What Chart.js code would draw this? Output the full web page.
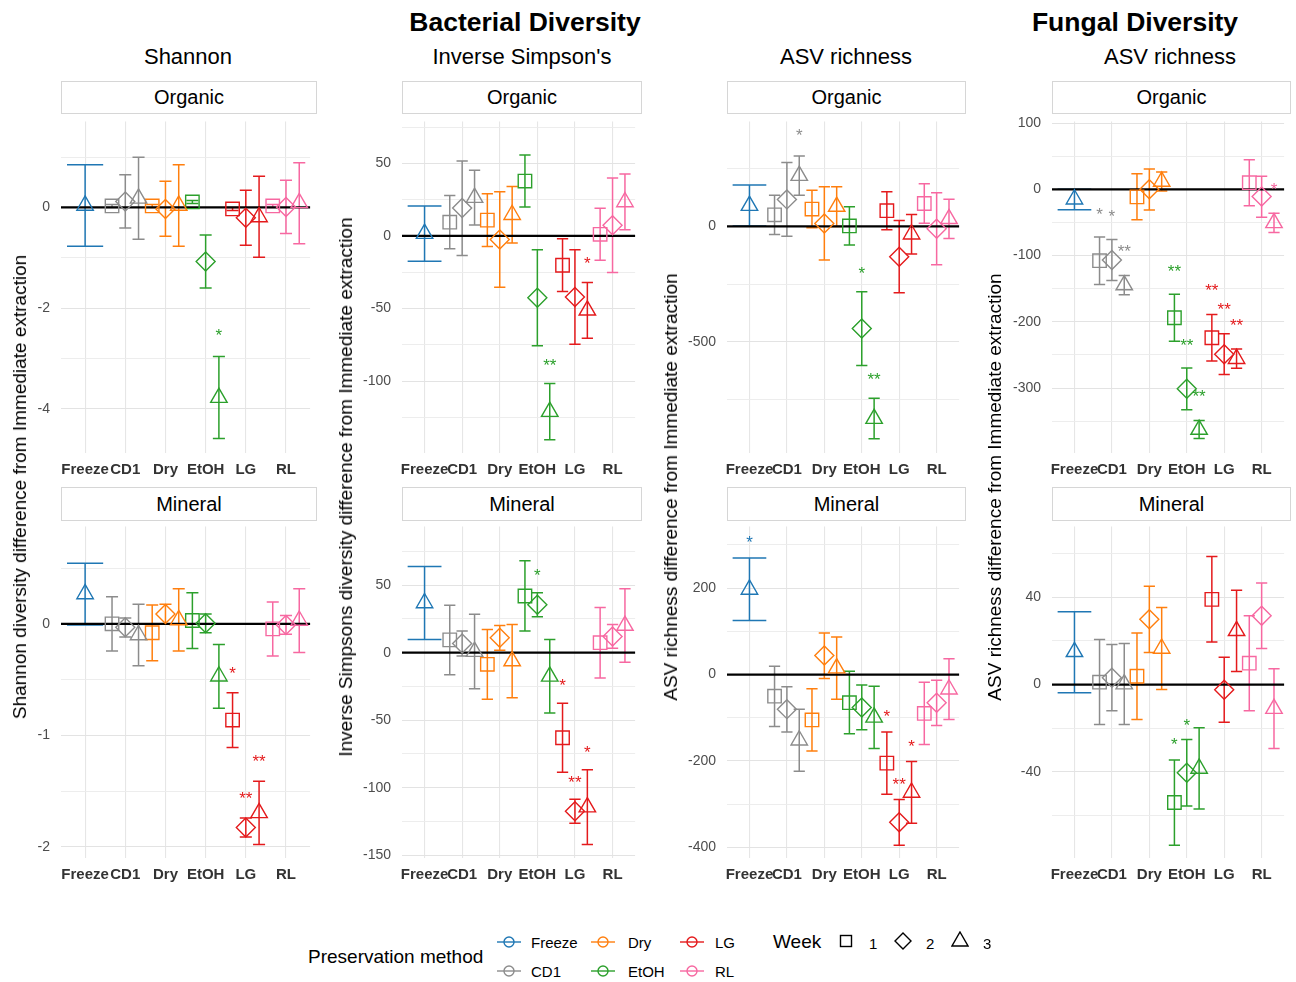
<!DOCTYPE html>
<html>
<head>
  <meta charset="utf-8">
  <title>Diversity difference from immediate extraction</title>
  <script src="https://cdn.jsdelivr.net/npm/chart.js@4.4.1/dist/chart.umd.min.js"></script>
  <style>
    body { margin: 0; background: #fff; font-family: 'Liberation Sans', Arial, sans-serif; color: #000; }
    #fig { position: relative; width: 1296px; height: 982px; overflow: hidden; }
    #fig canvas { position: absolute; }
    .lbl { position: absolute; white-space: nowrap; transform: translate(-50%, -50%); line-height: 1.15; }
    .title { font-size: 26.5px; font-weight: bold; }
    .sub { font-size: 22px; }
    .strip { position: absolute; box-sizing: border-box; border: 1px solid #d6d6d6; background: #fff;
             font-size: 20px; display: flex; align-items: center; justify-content: center; }
    .ytitle { position: absolute; white-space: nowrap; font-size: 19px; transform: translate(-50%, -50%) rotate(-90deg); }
    .leg { position: absolute; white-space: nowrap; transform: translateY(-50%); font-size: 15px; }
  </style>
</head>
<body>
<div id="fig"></div>

<script>
  // Categories and point layout (Freeze only has week 3)
  const methods = ['Freeze', 'CD1', 'Dry', 'EtOH', 'LG', 'RL'];
  const methodColors = ['#1f77b4', '#8c8c8c', '#ff7f0e', '#2ca02c', '#e41a1c', '#f768a1'];
  const weekShapes = { 1: 'rect', 2: 'rectRot', 3: 'triangle' };
  const pointMethod = [0, 1, 1, 1, 2, 2, 2, 3, 3, 3, 4, 4, 4, 5, 5, 5];
  const pointWeek   = [3, 1, 2, 3, 1, 2, 3, 1, 2, 3, 1, 2, 3, 1, 2, 3];

  // Bacterial Shannon - Organic
  const shannonOrgMean = [0.04, 0.03, 0.12, 0.18, 0.03, -0.03, 0.04, 0.11, -1.075, -3.78, -0.03, -0.205, -0.19, 0.03, 0.01, 0.09];
  const shannonOrgLo   = [-0.77, 0.0, -0.41, -0.63, 0.0, -0.57, -0.77, 0.08, -1.60, -4.59, -0.06, -0.75, -0.99, 0.0, -0.52, -0.72];
  const shannonOrgHi   = [0.85, 0.06, 0.65, 1.0, 0.06, 0.52, 0.85, 0.14, -0.55, -2.96, 0.0, 0.34, 0.62, 0.06, 0.54, 0.89];
  const shannonOrgStars = [[9, -2.46, '*']];

  // Bacterial Shannon - Mineral
  const shannonMinMean = [0.268, 0.0, -0.03, -0.10, -0.08, 0.088, 0.035, 0.03, 0.005, -0.47, -0.863, -1.826, -1.695, -0.045, -0.01, 0.03];
  const shannonMinLo   = [-0.01, -0.244, -0.118, -0.376, -0.332, 0.0, -0.244, -0.22, -0.079, -0.756, -1.109, -1.912, -1.979, -0.288, -0.094, -0.256];
  const shannonMinHi   = [0.544, 0.244, 0.053, 0.176, 0.168, 0.176, 0.315, 0.28, 0.088, -0.185, -0.618, -1.741, -1.412, 0.197, 0.074, 0.315];
  const shannonMinStars = [[10, -0.406, '*'], [11, -1.53, '**'], [12, -1.2, '**']];

  // Bacterial Inverse Simpson - Organic
  const simpsonOrgMean = [1.6, 9.5, 19.2, 26.4, 10.9, -2.5, 14.6, 37.8, -42.6, -121, -20.2, -42, -51.2, 1.1, 7.4, 23.4];
  const simpsonOrgLo   = [-17.4, -8.8, -13.4, 7.5, -7.3, -35.3, -4.8, 19.9, -75.7, -140.3, -38.3, -74.6, -70.5, -16.8, -25.2, 4.3];
  const simpsonOrgHi   = [20.6, 27.9, 51.7, 45.3, 29, 30.4, 34, 55.7, -9.5, -101.7, -2, -9.5, -32, 19, 39.9, 42.6];
  const simpsonOrgStars = [[9, -86.6, '**'], [12, -16.3, '*']];

  // Bacterial Inverse Simpson - Mineral
  const simpsonMinMean = [36.8, 9.5, 6.8, 0.8, -8.6, 11, -6.2, 42, 35.5, -17.5, -63, -117.4, -114.3, 7.4, 12, 20.1];
  const simpsonMinLo   = [9.7, -16.3, -2.4, -26.7, -34.5, 1.9, -33.3, 16, 26.7, -44.7, -88.6, -126.2, -142, -18.7, 3.2, -7];
  const simpsonMinHi   = [63.8, 35.2, 16, 28.4, 17.2, 20.1, 20.9, 68, 44.4, 9.7, -37.4, -108.5, -86.7, 33.5, 20.9, 47.3];
  const simpsonMinStars = [[8, 60.2, '*'], [10, -21.1, '*'], [11, -93.2, '**'], [12, -70.9, '*']];

  // Bacterial ASV richness - Organic
  const asvOrgMean = [90, 50, 117, 220, 75, 13, 86, 2, -442, -832, 68, -131, -34, 99, -10, 33];
  const asvOrgLo   = [1.4, -35.5, -42.6, 135, -5.7, -145, 0, -81, -602, -919, -14, -287, -119, 14, -166, -52.6];
  const asvOrgHi   = [179, 135, 277, 305, 156, 172, 172, 85, -283, -744, 150, 25.6, 51, 185, 146, 118];
  const asvOrgStars = [[3, 409, '*'], [8, -185, '*'], [9, -645, '**']];

  // Bacterial ASV richness - Mineral
  const asvMinMean = [197, -50, -80, -152, -105, 44, 15, -65, -76, -99, -205, -342, -273, -90, -65, -34];
  const asvMinLo   = [125, -120, -133, -224, -177, -9, -57, -137, -128, -171, -277, -395, -344, -162, -118, -104];
  const asvMinHi   = [270, 19, -28, -80, -33, 96.5, 87, 7.6, -24, -27, -133, -289, -201, -17.5, -13, 36.5];
  const asvMinStars = [[0, 315, '*'], [10, -87, '*'], [11, -245, '**'], [12, -158, '*']];

  // Fungal ASV richness - Organic
  const fungalOrgMean = [-15, -107.7, -106.7, -144.5, -11.4, 0, 11.9, -193.8, -301, -362.6, -224, -249, -255.7, 10, -11, -50.7];
  const fungalOrgLo   = [-30.7, -143.6, -137.6, -159, -46, -31.2, -2.5, -229.2, -332.7, -376, -259, -279.7, -270, -24.8, -42, -65];
  const fungalOrgHi   = [0, -71.8, -75.7, -130, 23.3, 30.7, 26.2, -158.4, -269.8, -349, -189, -218, -241, 44.6, 19.8, -36];
  const fungalOrgStars = [[1, -32, '*'], [2, -35, '*'], [3, -88, '**'], [7, -118, '**'], [8, -229, '**'],
                          [9, -307, '**'], [10, -147, '**'], [11, -176, '**'], [12, -200, '**'], [15, 6.4, '*']];

  // Fungal ASV richness - Mineral
  const fungalMinMean = [15, 1.1, 3.1, 0.2, 3.8, 29.9, 16.5, -54, -40.4, -38.4, 39, -2.4, 24.6, 9.8, 31.5, -11];
  const fungalMinLo   = [-3.75, -18.3, -12, -18.3, -16, 14.7, -2.3, -73.6, -55.6, -57, 19.5, -17.3, 6, -12, 16.5, -29.3];
  const fungalMinHi   = [33.3, 20.6, 18.3, 18.8, 23.6, 45, 35.3, -34.5, -25.2, -19.8, 58.6, 12.5, 43.2, 31.5, 46.5, 7.2];
  const fungalMinStars = [[7, -25.8, '*'], [8, -17, '*']];

  // page layout
  const FONT = "'Liberation Sans', Arial, sans-serif";
  const colLeft  = [61, 402, 727, 1052];
  const colRight = [317, 642, 966, 1291];
  const rowTop    = [116, 521];
  const rowBottom = [453, 858];
  const stripTop    = [81, 487];
  const stripBottom = [114, 521];
  const YW = 60, PT = 14, PR = 4, XH = 34;

  const panels = [
    { col: 0, row: 0, mean: shannonOrgMean, lo: shannonOrgLo, hi: shannonOrgHi, stars: shannonOrgStars, min: -4.88, max: 1.71, major: 2, minor: 1 },
    { col: 0, row: 1, mean: shannonMinMean, lo: shannonMinLo, hi: shannonMinHi, stars: shannonMinStars, min: -2.10, max: 0.874, major: 1, minor: 0.5 },
    { col: 1, row: 0, mean: simpsonOrgMean, lo: simpsonOrgLo, hi: simpsonOrgHi, stars: simpsonOrgStars, min: -149.5, max: 78.9, major: 50, minor: 25 },
    { col: 1, row: 1, mean: simpsonMinMean, lo: simpsonMinLo, hi: simpsonMinHi, stars: simpsonMinStars, min: -152, max: 93.5, major: 50, minor: 25 },
    { col: 2, row: 0, mean: asvOrgMean, lo: asvOrgLo, hi: asvOrgHi, stars: asvOrgStars, min: -981, max: 454.6, major: 500, minor: 250 },
    { col: 2, row: 1, mean: asvMinMean, lo: asvMinLo, hi: asvMinHi, stars: asvMinStars, min: -424.6, max: 343, major: 200, minor: 100 },
    { col: 3, row: 0, mean: fungalOrgMean, lo: fungalOrgLo, hi: fungalOrgHi, stars: fungalOrgStars, min: -398, max: 102.5, major: 100, minor: 50 },
    { col: 3, row: 1, mean: fungalMinMean, lo: fungalMinLo, hi: fungalMinHi, stars: fungalMinStars, min: -79.4, max: 72.4, major: 40, minor: 20 }
  ];

  const fig = document.getElementById('fig');

  function addLabel(cls, text, x, y, extra) {
    const d = document.createElement('div');
    d.className = cls;
    d.textContent = text;
    d.style.left = x + 'px';
    d.style.top = y + 'px';
    if (extra) Object.assign(d.style, extra);
    fig.appendChild(d);
    return d;
  }

  function isMultiple(v, m) {
    return Math.abs(v / m - Math.round(v / m)) < 1e-6;
  }

  // tick values: multiples of step inside [min, max]
  function stepTicks(min, max, step) {
    const out = [];
    for (let k = Math.ceil(min / step); k * step <= max + 1e-9; k++) {
      out.push({ value: Math.round(k * step * 1000) / 1000 });
    }
    return out;
  }

  // x position of a point: dodged by week when the method has three weeks
  function pointX(i) {
    const mi = pointMethod[i];
    const n = pointMethod.filter(v => v === mi).length;
    return mi + (n > 1 ? (pointWeek[i] - 2) * 0.33 : 0);
  }

  const errorBars = {
    id: 'errorBars',
    beforeDatasetsDraw(chart) {
      const { ctx, chartArea, scales: { x, y } } = chart;
      ctx.save();
      ctx.lineWidth = 1.5;
      chart.data.datasets.forEach(ds => {
        ctx.strokeStyle = ds.borderColor;
        ds.data.forEach(p => {
          const px = x.getPixelForValue(p.x);
          const half = x.getPixelForValue(p.x + p.cap / 2) - px;
          const yl = y.getPixelForValue(p.lo), yh = y.getPixelForValue(p.hi);
          ctx.beginPath();
          ctx.moveTo(px, yl); ctx.lineTo(px, yh);
          ctx.moveTo(px - half, yl); ctx.lineTo(px + half, yl);
          ctx.moveTo(px - half, yh); ctx.lineTo(px + half, yh);
          ctx.stroke();
        });
      });
      // reference line at zero
      const y0 = y.getPixelForValue(0);
      ctx.strokeStyle = '#000';
      ctx.lineWidth = 2.2;
      ctx.beginPath();
      ctx.moveTo(chartArea.left, y0); ctx.lineTo(chartArea.right, y0);
      ctx.stroke();
      ctx.restore();
    },
    afterDatasetsDraw(chart, args, opts) {
      const { ctx, scales: { x, y } } = chart;
      ctx.save();
      ctx.font = '17px ' + FONT;
      ctx.textAlign = 'center';
      ctx.textBaseline = 'alphabetic';
      (opts.stars || []).forEach(([i, v, txt]) => {
        ctx.fillStyle = methodColors[pointMethod[i]];
        ctx.fillText(txt, x.getPixelForValue(pointX(i)), y.getPixelForValue(v) + 9.5);
      });
      ctx.restore();
    }
  };

  function buildDatasets(p) {
    return methods.map((m, mi) => {
      const idx = pointMethod.map((v, i) => (v === mi ? i : -1)).filter(i => i >= 0);
      return {
        label: m,
        borderColor: methodColors[mi],
        backgroundColor: 'rgba(0,0,0,0)',
        pointBorderWidth: 1.4,
        pointRadius: 9.5,
        pointStyle: ctx => (ctx.raw ? weekShapes[ctx.raw.week] : 'circle'),
        data: idx.map(i => ({
          x: pointX(i), y: p.mean[i], lo: p.lo[i], hi: p.hi[i],
          week: pointWeek[i], cap: 0.9 / idx.length
        }))
      };
    });
  }

  panels.forEach(p => {
    const left = colLeft[p.col], right = colRight[p.col];
    const top = rowTop[p.row], bottom = rowBottom[p.row];
    const canvas = document.createElement('canvas');
    canvas.width = YW + (right - left) + PR;
    canvas.height = PT + (bottom - top) + XH;
    canvas.style.left = (left - YW) + 'px';
    canvas.style.top = (top - PT) + 'px';
    fig.appendChild(canvas);

    new Chart(canvas.getContext('2d'), {
      type: 'scatter',
      data: { datasets: buildDatasets(p) },
      plugins: [errorBars],
      options: {
        responsive: false,
        animation: false,
        layout: { padding: { top: PT, right: PR, left: 0, bottom: 0 } },
        plugins: { legend: { display: false }, tooltip: { enabled: false }, errorBars: { stars: p.stars } },
        scales: {
          x: {
            type: 'linear', min: -0.6, max: 5.6,
            afterFit: s => { s.height = XH; },
            afterBuildTicks: s => { s.ticks = stepTicks(0, methods.length - 1, 1); },
            ticks: {
              autoSkip: false, maxRotation: 0, minRotation: 0,
              padding: 8, color: '#333', font: { family: FONT, size: 15, weight: 'bold' },
              callback: v => (methods[v] !== undefined ? methods[v] : '')
            },
            grid: { color: '#e6e6e6', lineWidth: 1.1, drawTicks: false },
            border: { display: false }
          },
          y: {
            min: p.min, max: p.max,
            afterFit: s => { s.width = YW; },
            afterBuildTicks: s => { s.ticks = stepTicks(p.min, p.max, p.minor); },
            ticks: {
              autoSkip: false, padding: 11,
              color: '#4d4d4d', font: { family: FONT, size: 14 },
              callback: v => (isMultiple(v, p.major) ? String(Math.round(v * 100) / 100) : '')
            },
            grid: {
              drawTicks: false,
              color: c => (c.tick && isMultiple(c.tick.value, p.major) ? '#e3e3e3' : '#ebebeb'),
              lineWidth: c => (c.tick && isMultiple(c.tick.value, p.major) ? 1.1 : 0.9)
            },
            border: { display: false }
          }
        }
      }
    });

    // facet strip
    const s = document.createElement('div');
    s.className = 'strip';
    s.textContent = p.row === 0 ? 'Organic' : 'Mineral';
    Object.assign(s.style, {
      left: left + 'px', top: stripTop[p.row] + 'px',
      width: (right - left) + 'px', height: (stripBottom[p.row] - stripTop[p.row]) + 'px'
    });
    fig.appendChild(s);
  });

  // titles
  addLabel('lbl title', 'Bacterial Diversity', 525, 22);
  addLabel('lbl title', 'Fungal Diversity', 1135, 22);
  addLabel('lbl sub', 'Shannon', 188, 57);
  addLabel('lbl sub', "Inverse Simpson's", 522, 57);
  addLabel('lbl sub', 'ASV richness', 846, 57);
  addLabel('lbl sub', 'ASV richness', 1170, 57);

  // y axis titles
  addLabel('ytitle', 'Shannon diversity difference from Immediate extraction', 20, 487);
  addLabel('ytitle', 'Inverse Simpsons diversity difference from Immediate extraction', 346, 487);
  addLabel('ytitle', 'ASV richness difference from Immediate extraction', 671, 487);
  addLabel('ytitle', 'ASV richness difference from Immediate extraction', 995, 487);

  // legend
  const SVGNS = 'http://www.w3.org/2000/svg';
  function svgIcon(x, y, w, h, inner) {
    const svg = document.createElementNS(SVGNS, 'svg');
    svg.setAttribute('width', w); svg.setAttribute('height', h);
    svg.style.position = 'absolute';
    svg.style.left = (x - w / 2) + 'px';
    svg.style.top = (y - h / 2) + 'px';
    svg.innerHTML = inner;
    fig.appendChild(svg);
  }
  addLabel('leg', 'Preservation method', 308, 957, { fontSize: '19px' });
  const legCols = [[509, 531], [603, 628], [692, 715]];
  const legRows = [942, 971];
  const legOrder = [0, 2, 4, 1, 3, 5]; // Freeze Dry LG / CD1 EtOH RL
  legOrder.forEach((mi, k) => {
    const [cx, tx] = legCols[k % 3];
    const cy = legRows[Math.floor(k / 3)];
    const c = methodColors[mi];
    svgIcon(cx, cy, 26, 14,
      `<line x1="1" y1="7" x2="25" y2="7" stroke="${c}" stroke-width="1.4"/>` +
      `<circle cx="13" cy="7" r="5" fill="none" stroke="${c}" stroke-width="1.4"/>`);
    addLabel('leg', methods[mi], tx, cy);
  });
  addLabel('leg', 'Week', 773, 942, { fontSize: '19px' });
  svgIcon(846, 941, 14, 14, '<rect x="1.5" y="1.5" width="11" height="11" fill="none" stroke="#000" stroke-width="1.4"/>');
  addLabel('leg', '1', 869, 943);
  svgIcon(903, 941, 18, 18, '<polygon points="9,1 17,9 9,17 1,9" fill="none" stroke="#000" stroke-width="1.4"/>');
  addLabel('leg', '2', 926, 943);
  svgIcon(960, 939, 18, 16, '<polygon points="9,1 17,15 1,15" fill="none" stroke="#000" stroke-width="1.4"/>');
  addLabel('leg', '3', 983, 943);
</script>
</body>
</html>
